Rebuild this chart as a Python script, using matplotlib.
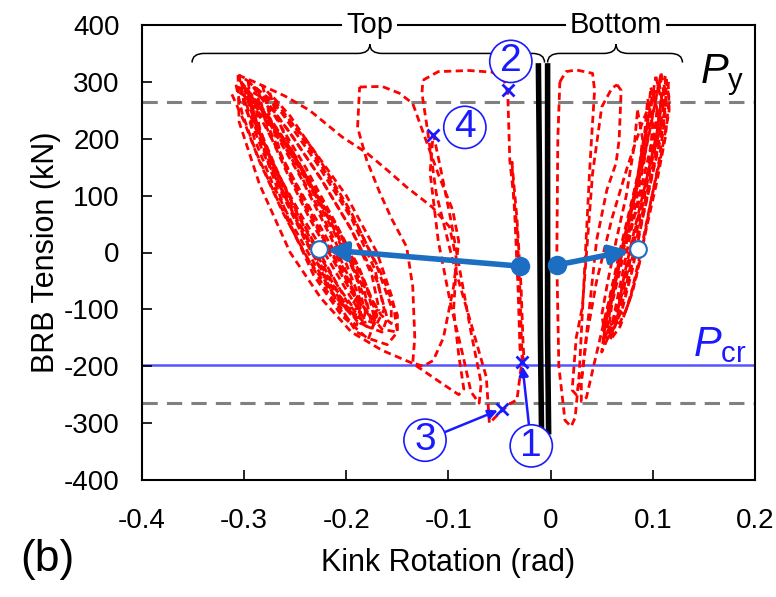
import numpy as np
import matplotlib
matplotlib.use("Agg")
import matplotlib.pyplot as plt
from matplotlib.path import Path
from matplotlib.patches import PathPatch

plt.rcParams['font.family'] = ['Liberation Sans', 'DejaVu Sans']
plt.rcParams['mathtext.fontset'] = 'custom'
plt.rcParams['mathtext.it'] = 'Liberation Sans:italic'
plt.rcParams['mathtext.rm'] = 'Liberation Sans'

# --- data (kink rotation [rad], BRB tension [kN]) ---
# dense loops of the "top" kink
top_dense_loops = [
    [(-0.305,312),(-0.300,260),(-0.280,170),(-0.255,80),(-0.230,0),(-0.205,-80),(-0.190,-120),(-0.175,-135),(-0.170,-110),(-0.185,-40),(-0.210,50),(-0.240,150),(-0.270,240),(-0.295,300),(-0.305,312)],
    [(-0.312,278),(-0.300,230),(-0.285,160),(-0.262,70),(-0.238,-10),(-0.215,-70),(-0.195,-110),(-0.183,-118),(-0.180,-90),(-0.195,-20),(-0.220,70),(-0.250,170),(-0.280,250),(-0.305,282)],
    [(-0.300,290),(-0.290,230),(-0.270,150),(-0.245,60),(-0.220,-20),(-0.200,-85),(-0.180,-130),(-0.165,-140),(-0.160,-115),(-0.170,-50),(-0.195,40),(-0.225,130),(-0.255,210),(-0.280,270),(-0.300,290)],
    [(-0.282,294),(-0.275,240),(-0.262,160),(-0.240,80),(-0.215,0),(-0.190,-80),(-0.165,-135),(-0.150,-140),(-0.150,-110),(-0.165,-40),(-0.190,50),(-0.220,140),(-0.250,220),(-0.282,294)],
    [(-0.290,270),(-0.285,220),(-0.270,140),(-0.250,60),(-0.228,-20),(-0.208,-90),(-0.190,-140),(-0.178,-150),(-0.172,-120),(-0.180,-60),(-0.205,30),(-0.235,120),(-0.265,210),(-0.290,270)],
    [(-0.296,300),(-0.292,240),(-0.275,150),(-0.255,50),(-0.232,-40),(-0.205,-110),(-0.180,-150),(-0.160,-162),(-0.150,-140),(-0.155,-80),(-0.170,0),(-0.200,100),(-0.240,200),(-0.275,270),(-0.296,300)],
    [(-0.300,270),(-0.290,200),(-0.272,120),(-0.250,40),(-0.228,-30),(-0.210,-80),(-0.197,-100),(-0.190,-80),(-0.205,-20),(-0.230,60),(-0.258,150),(-0.285,240),(-0.300,270)],
    [(-0.286,285),(-0.278,220),(-0.258,140),(-0.236,60),(-0.214,-10),(-0.195,-70),(-0.178,-110),(-0.168,-100),(-0.175,-40),(-0.195,40),(-0.225,130),(-0.255,210),(-0.286,285)],
    [(-0.293,260),(-0.283,200),(-0.266,130),(-0.246,50),(-0.224,-25),(-0.202,-90),(-0.186,-125),(-0.176,-120),(-0.182,-70),(-0.200,10),(-0.226,100),(-0.262,200),(-0.293,260)],
    [(-0.303,300),(-0.296,250),(-0.280,180),(-0.262,100),(-0.240,20),(-0.218,-50),(-0.200,-100),(-0.188,-112),(-0.186,-85),(-0.200,-20),(-0.225,70),(-0.255,170),(-0.285,260),(-0.303,300)],
    [(-0.297,285),(-0.287,225),(-0.268,145),(-0.250,75),(-0.228,0),(-0.208,-60),(-0.192,-100),(-0.183,-95),(-0.190,-45),(-0.208,30),(-0.235,115),(-0.265,205),(-0.297,285)],
    [(-0.308,295),(-0.302,245),(-0.288,175),(-0.268,95),(-0.246,15),(-0.222,-60),(-0.200,-115),(-0.190,-128),(-0.186,-105),(-0.196,-50),(-0.216,30),(-0.244,130),(-0.276,230),(-0.308,295)],
    [(-0.290,292),(-0.280,235),(-0.262,165),(-0.242,95),(-0.222,25),(-0.200,-45),(-0.180,-105),(-0.170,-125),(-0.163,-100),(-0.172,-30),(-0.195,60),(-0.230,160),(-0.265,250),(-0.290,292)],
    [(-0.295,275),(-0.286,215),(-0.266,135),(-0.244,65),(-0.220,-5),(-0.197,-75),(-0.182,-118),(-0.172,-125),(-0.172,-95),(-0.188,-25),(-0.212,55),(-0.245,150),(-0.278,240),(-0.295,275)],
    [(-0.275,280),(-0.265,225),(-0.248,160),(-0.228,90),(-0.206,15),(-0.184,-55),(-0.166,-110),(-0.156,-125),(-0.156,-95),(-0.170,-25),(-0.195,70),(-0.225,160),(-0.255,240),(-0.275,280)],
]
# wider loops of the "top" kink
top_wide_loops = [
    [(-0.306,312),(-0.290,300),(-0.260,275),(-0.236,250),(-0.204,203),(-0.180,175),(-0.160,145),(-0.141,115),(-0.116,80),(-0.099,45),(-0.092,-13),(-0.095,-100),(-0.090,-180),(-0.085,-240),(-0.090,-250),(-0.105,-232),(-0.135,-195),(-0.165,-172),(-0.195,-140),(-0.225,-80),(-0.255,0),(-0.285,120),(-0.305,230),(-0.306,312)],
    [(-0.187,291),(-0.165,292),(-0.148,280),(-0.135,262),(-0.121,192),(-0.109,133),(-0.096,75),(-0.090,20),(-0.095,-60),(-0.105,-150),(-0.115,-190),(-0.125,-200),(-0.135,-194),(-0.133,-150),(-0.135,-60),(-0.141,10),(-0.155,57),(-0.167,104),(-0.180,162),(-0.189,220),(-0.187,291)],
    [(-0.125,303),(-0.110,318),(-0.080,320),(-0.057,317),(-0.045,300),(-0.042,280),(-0.040,162),(-0.033,45),(-0.030,-72),(-0.028,-189),(-0.033,-259),(-0.040,-266),(-0.050,-282),(-0.060,-300),(-0.063,-219),(-0.077,-131),(-0.096,-13),(-0.112,104),(-0.121,221),(-0.126,280),(-0.125,303)],
    [(-0.115,210),(-0.108,150),(-0.098,60),(-0.088,-40),(-0.078,-140),(-0.068,-230),(-0.070,-265),(-0.078,-245),(-0.086,-180),(-0.098,-90),(-0.110,20),(-0.118,140),(-0.115,210)],
    [(-0.038,160),(-0.033,60),(-0.029,-60),(-0.027,-160),(-0.026,-190),(-0.030,-170),(-0.032,-60),(-0.035,60),(-0.038,160)],
]
# loops of the "bottom" kink
bottom_loops = [
    [(0.009,300),(0.015,318),(0.025,321),(0.041,315),(0.043,285),(0.040,200),(0.038,139),(0.033,-37),(0.028,-212),(0.024,-290),(0.020,-306),(0.014,-295),(0.008,-200),(0.006,-13),(0.007,200),(0.009,300)],
    [(0.065,295),(0.069,285),(0.067,198),(0.064,157),(0.055,110),(0.045,22),(0.038,-96),(0.031,-212),(0.025,-250),(0.021,-242),(0.025,-150),(0.031,-96),(0.036,20),(0.041,139),(0.050,256),(0.060,289),(0.065,295)],
    [(0.112,310),(0.113,256),(0.100,170),(0.085,80),(0.070,0),(0.055,-100),(0.042,-200),(0.035,-255),(0.030,-262),(0.030,-230),(0.035,-150),(0.045,-50),(0.060,60),(0.075,150),(0.090,230),(0.105,295),(0.112,310)],
    [(0.108,315),(0.113,280),(0.110,220),(0.100,140),(0.090,60),(0.080,-30),(0.070,-100),(0.060,-140),(0.052,-160),(0.052,-130),(0.060,-60),(0.070,20),(0.082,110),(0.095,200),(0.103,270),(0.108,315)],
    [(0.103,309),(0.108,270),(0.104,200),(0.094,120),(0.084,40),(0.074,-40),(0.064,-110),(0.056,-150),(0.050,-175),(0.052,-145),(0.058,-80),(0.068,0),(0.080,90),(0.090,180),(0.098,260),(0.103,309)],
    [(0.115,300),(0.116,250),(0.108,170),(0.098,90),(0.088,0),(0.078,-80),(0.068,-130),(0.060,-150),(0.062,-110),(0.070,-40),(0.080,50),(0.092,140),(0.104,230),(0.115,300)],
    [(0.098,290),(0.104,250),(0.100,180),(0.092,100),(0.082,20),(0.072,-60),(0.062,-120),(0.055,-140),(0.058,-100),(0.066,-30),(0.077,60),(0.088,150),(0.095,230),(0.098,290)],
    [(0.110,290),(0.112,240),(0.106,160),(0.097,80),(0.088,-10),(0.080,-70),(0.072,-110),(0.066,-100),(0.072,-40),(0.082,40),(0.094,130),(0.104,210),(0.110,290)],
    [(0.085,250),(0.090,200),(0.085,120),(0.076,40),(0.066,-40),(0.058,-100),(0.052,-130),(0.050,-110),(0.056,-50),(0.064,20),(0.074,100),(0.082,190),(0.085,250)],
    [(0.106,300),(0.110,255),(0.105,185),(0.096,110),(0.086,30),(0.076,-50),(0.066,-115),(0.058,-155),(0.054,-150),(0.058,-95),(0.068,-15),(0.080,80),(0.092,170),(0.101,250),(0.106,300)],
    [(0.100,280),(0.106,240),(0.102,170),(0.093,95),(0.083,15),(0.073,-65),(0.064,-120),(0.057,-130),(0.060,-90),(0.070,-15),(0.082,75),(0.092,165),(0.100,280)],
    [(0.113,305),(0.116,270),(0.112,200),(0.104,125),(0.094,45),(0.084,-40),(0.074,-100),(0.066,-130),(0.064,-115),(0.070,-60),(0.080,20),(0.092,110),(0.104,210),(0.113,305)],
    [(0.095,270),(0.100,225),(0.096,150),(0.088,75),(0.078,-5),(0.068,-80),(0.058,-135),(0.052,-150),(0.054,-120),(0.062,-55),(0.072,25),(0.084,120),(0.092,210),(0.095,270)],
]
# elastic (black) response
black_left_x = [-0.012, -0.011, -0.010, -0.009]
black_left_y = [328, 150, -150, -308]
black_right_x = [-0.003, -0.003, -0.003, -0.002]
black_right_y = [328, 100, -150, -315]

P_y = 265
P_cr = -198

# numbered points
marks_x = [-0.028, -0.042, -0.048, -0.115]
marks_y = [-193, 285, -275, 206]
mark_labels = ['1', '2', '3', '4']

# kink centre shift arrows: start (filled) -> end (open)
shift_start_x = [-0.030, 0.006]
shift_start_y = [-24, -22]
shift_end_x = [-0.227, 0.085]
shift_end_y = [6, 6]

fig = plt.figure(figsize=(7.76, 5.97), dpi=100)
ax = fig.add_axes([142/776, 117/597, 613/776, 455/597])

red_ls = (0, (2.6, 1.6))
for loop in top_dense_loops + top_wide_loops + bottom_loops:
    xs, ys = zip(*loop)
    ax.plot(xs, ys, color='red', lw=2.0, ls=red_ls, zorder=2)

ax.plot(black_left_x, black_left_y, color='black', lw=4, zorder=3)
ax.plot(black_right_x, black_right_y, color='black', lw=4, zorder=3)

ax.axhline(P_y, color='#808080', lw=2.2, ls=(0, (5, 3)), zorder=1)
ax.axhline(-P_y, color='#808080', lw=2.2, ls=(0, (5, 3)), zorder=1)
ax.axhline(P_cr, color='#5555ff', lw=1.8, zorder=1)

ax.text(0.146, 312, r'$P_{\mathrm{y}}$', fontsize=30, ha='left', va='center')
ax.text(0.139, -162, r'$P_{\mathrm{cr}}$', fontsize=30, color='#1a1aff', ha='left', va='center')

# blue shift arrows
steel = '#1b6ec2'
for i in range(2):
    ax.annotate('', xy=(shift_end_x[i], shift_end_y[i]), xytext=(shift_start_x[i], shift_start_y[i]),
                arrowprops=dict(arrowstyle='-|>', color=steel, lw=4, mutation_scale=28,
                                shrinkA=0, shrinkB=6), zorder=5)
ax.plot(shift_start_x, shift_start_y, 'o', color=steel, ms=13, zorder=6)
ax.plot(shift_end_x, shift_end_y, 'o', mfc='white', mec=steel, mew=1.5, ms=12, zorder=6)

# numbered marks
blue = '#1a1aff'
ax.plot(marks_x, marks_y, 'x', color=blue, ms=9, mew=2, zorder=6)
circ = dict(boxstyle='circle,pad=0.08', fc='white', ec=blue, lw=1.2)
label_pos = [(-0.019, -340), (-0.039, 336), (-0.123, -330), (-0.084, 220)]
for i in range(4):
    lx, ly = label_pos[i]
    if i in (0, 2):
        ax.annotate(mark_labels[i], xy=(marks_x[i], marks_y[i]), xytext=(lx, ly),
                    fontsize=28, color=blue, ha='center', va='center', bbox=circ,
                    arrowprops=dict(arrowstyle='-|>', color=blue, lw=1.8, mutation_scale=14,
                                    shrinkA=0, shrinkB=3), zorder=7)
    else:
        ax.text(lx, ly, mark_labels[i], fontsize=28, color=blue, ha='center', va='center',
                bbox=circ, zorder=7)


# braces above the loops
def brace(x0, x1, xm, y, h):
    w = 0.012
    verts = [(x0, y - h), (x0, y), (x0 + w, y), (x0 + w, y),
             (xm - w, y), (xm, y), (xm, y + h),
             (xm, y), (xm + w, y), (xm + w, y),
             (x1 - w, y), (x1, y), (x1, y - h)]
    codes = [Path.MOVETO, Path.CURVE3, Path.CURVE3, Path.LINETO,
             Path.LINETO, Path.CURVE3, Path.CURVE3,
             Path.CURVE3, Path.CURVE3, Path.LINETO,
             Path.LINETO, Path.CURVE3, Path.CURVE3]
    ax.add_patch(PathPatch(Path(verts, codes), fc='none', ec='black', lw=1.1, zorder=4))


brace(-0.351, -0.006, -0.177, 350, 16)
brace(-0.003, 0.129, 0.064, 350, 16)
ax.text(-0.177, 400, 'Top', fontsize=21, ha='center', va='center',
        bbox=dict(fc='white', ec='none', pad=3), zorder=5, clip_on=False)
ax.text(0.064, 400, 'Bottom', fontsize=21, ha='center', va='center',
        bbox=dict(fc='white', ec='none', pad=3), zorder=5, clip_on=False)

ax.set_xlim(-0.4, 0.2)
ax.set_ylim(-400, 400)
ax.set_xticks(np.arange(-0.4, 0.21, 0.1))
ax.set_xticklabels(['-0.4', '-0.3', '-0.2', '-0.1', '0', '0.1', '0.2'])
ax.set_yticks(range(-400, 401, 100))
ax.set_yticklabels([str(v) for v in range(-400, 401, 100)])
ax.tick_params(direction='in', length=7, width=1.2, labelsize=20)
ax.tick_params(axis='x', pad=20)
ax.tick_params(axis='y', pad=16)
for s in ax.spines.values():
    s.set_linewidth(1.5)

ax.set_xlabel('Kink Rotation (rad)', fontsize=22, labelpad=10)
ax.set_ylabel('BRB Tension (kN)', fontsize=22, labelpad=2)
fig.text(47/776, 1 - 560/597, '(b)', fontsize=32, ha='center', va='center')

fig.savefig('out.png', dpi=100)
